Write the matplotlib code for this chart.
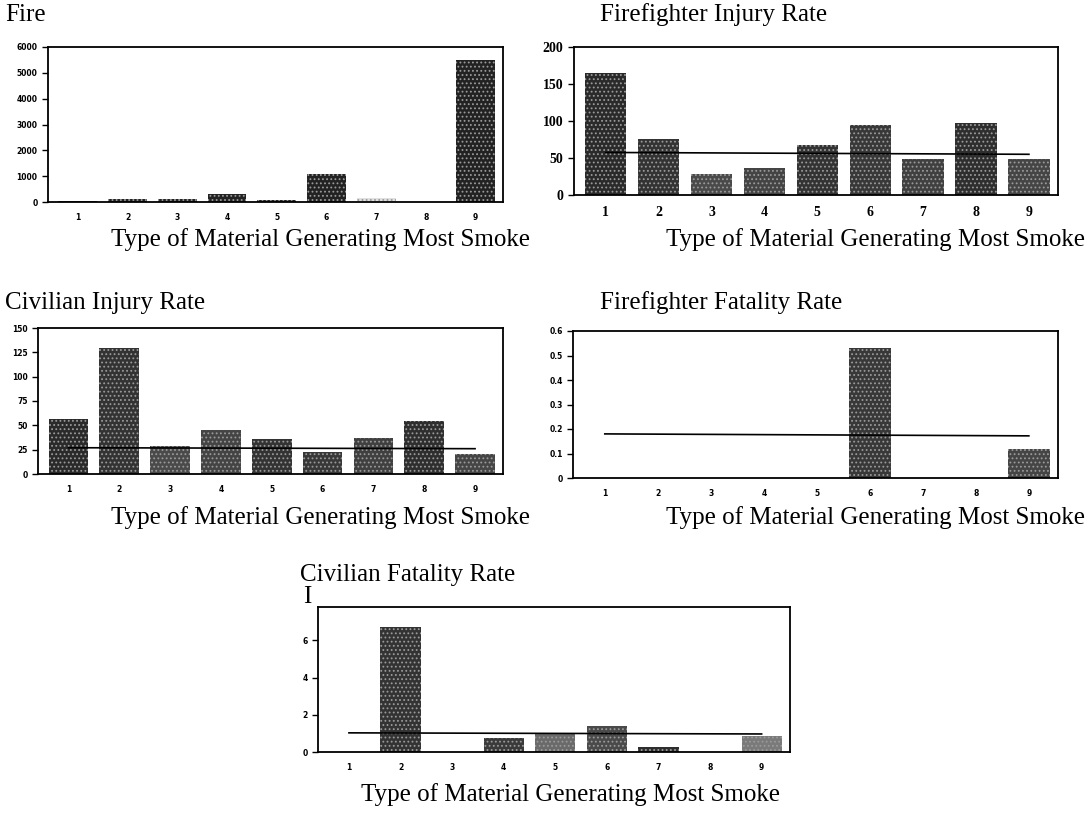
import matplotlib.pyplot as plt
import numpy as np

# fonts: serif for the document text, small bold sans for the scanned tick labels
plt.rcParams['font.family'] = ['Liberation Serif', 'DejaVu Serif']
plt.rcParams['hatch.linewidth'] = 0.8

W, H = 1088, 817

# data
types = [1, 2, 3, 4, 5, 6, 7, 8, 9]
fire = [20, 100, 130, 310, 80, 1070, 170, 10, 5500]
ff_injury = [165, 76, 28, 36, 67, 95, 49, 97, 48]
ff_injury_avg = [57.5, 55]
civ_injury = [57, 129, 29, 45, 36, 23, 37, 54, 21]
civ_injury_avg = [27, 26]
ff_fatal = [0, 0, 0, 0, 0, 0.53, 0, 0, 0.12]
ff_fatal_avg = [0.18, 0.172]
civ_fatal = [0, 6.7, 0, 0.76, 0.97, 1.4, 0.27, 0, 0.85]
civ_fatal_avg = [1.03, 0.97]

xlab = 'Type of Material Generating Most Smoke'

fig = plt.figure(figsize=(W / 100, H / 100), dpi=100)


def px_axes(l, t, r, b):
    return fig.add_axes([l / W, 1 - b / H, (r - l) / W, (b - t) / H])


def panel(box, vals, yticks, ylim, shades, avg=None, tick_font=None):
    ax = px_axes(*box)
    ax.bar(types, vals, width=0.78, color=shades, edgecolor='#9a9a9a',
           linewidth=0, hatch='....', zorder=2)
    if avg is not None:
        ax.plot([types[0], types[-1]], avg, color='black', lw=1.2, zorder=3)
    ax.set_xlim(0.4, 9.55)
    ax.set_ylim(*ylim)
    ax.set_yticks(yticks)
    ax.set_xticks(types)
    tf = tick_font or dict(family='DejaVu Sans', fontsize=5.5, fontweight='bold')
    ax.set_yticklabels([f'{t:g}' for t in yticks], **tf)
    ax.set_xticklabels([str(t) for t in types], **tf)
    ax.tick_params(axis='y', direction='out', length=4, width=1)
    ax.tick_params(axis='x', length=0, pad=8)
    for s in ax.spines.values():
        s.set_linewidth(1.3)
    return ax


dark = ['#222222'] * 9
mixed = ['#2a2a2a', '#333333', '#4a4a4a', '#444444', '#333333',
         '#383838', '#404040', '#2e2e2e', '#454545']
TS, XS = 18, 18

# Fire
ax = panel((48, 47, 503, 202), fire, range(0, 7000, 1000), (0, 6000),
           dark[:6] + ['#e0e0e0'] + dark[7:])
fig.text(5 / W, 1 - 15 / H, 'Fire', fontsize=TS, va='center')
fig.text(530 / W, 1 - 240 / H, xlab, fontsize=XS, va='center', ha='right')

# Firefighter Injury Rate
ax = panel((574, 47, 1058, 195), ff_injury, [0, 50, 100, 150, 200], (0, 200),
           mixed, ff_injury_avg,
           tick_font=dict(family='Liberation Serif', fontsize=10, fontweight='bold'))
fig.text(600 / W, 1 - 15 / H, 'Firefighter Injury Rate', fontsize=TS, va='center')
fig.text(1085 / W, 1 - 240 / H, xlab, fontsize=XS, va='center', ha='right')

# Civilian Injury Rate
ax = panel((38, 328, 503, 474), civ_injury, [0, 25, 50, 75, 100, 125, 150], (0, 150),
           mixed, civ_injury_avg)
fig.text(5 / W, 1 - 303 / H, 'Civilian Injury Rate', fontsize=TS, va='center')
fig.text(530 / W, 1 - 518 / H, xlab, fontsize=XS, va='center', ha='right')

# Firefighter Fatality Rate
ax = panel((573, 331, 1058, 478), ff_fatal, [0, 0.1, 0.2, 0.3, 0.4, 0.5, 0.6], (0, 0.6),
           mixed, ff_fatal_avg)
fig.text(600 / W, 1 - 303 / H, 'Firefighter Fatality Rate', fontsize=TS, va='center')
fig.text(1085 / W, 1 - 518 / H, xlab, fontsize=XS, va='center', ha='right')

# Civilian Fatality Rate
ax = panel((318, 607, 790, 752), civ_fatal, [0, 2, 4, 6], (0, 7.8),
           ['#2a2a2a', '#333333', '#444444', '#3a3a3a', '#6a6a6a',
            '#4a4a4a', '#2e2e2e', '#444444', '#7a7a7a'], civ_fatal_avg)
fig.text(300 / W, 1 - 575 / H, 'Civilian Fatality Rate', fontsize=TS, va='center')
fig.text(303 / W, 1 - 597 / H, 'I', fontsize=TS, va='center')
fig.text(780 / W, 1 - 795 / H, xlab, fontsize=XS, va='center', ha='right')

fig.savefig('out.png', dpi=100)
